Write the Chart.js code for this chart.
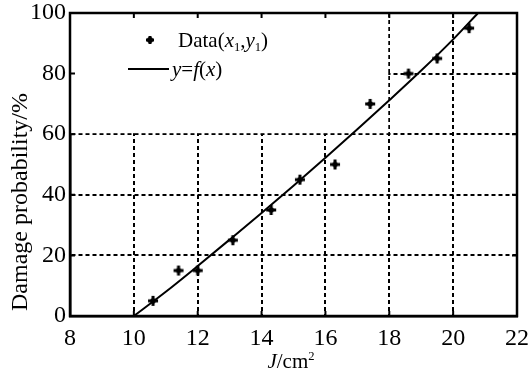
<!DOCTYPE html>
<html>
<head>
<meta charset="utf-8">
<script src="https://cdn.jsdelivr.net/npm/chart.js@4"></script>
<style>
	html, body { margin: 0; padding: 0; background: #fff; }
	#wrap { width: 531px; height: 376px; }
</style>
</head>
<body>
<div id="wrap"><canvas id="c" width="531" height="376"></canvas></div>
<script>

// measured points (J/cm2, damage probability %)
let dataX = [10.6, 11.4, 12.0, 13.1, 14.3, 15.2, 16.3, 17.4, 18.6, 19.5, 20.5];
let dataY = [5, 15, 15, 25, 35, 45, 50, 70, 80, 85, 95];

// fitted curve y = f(x)
let curveX = [10.0, 11.0, 12.0, 13.0, 14.0, 15.0, 16.0, 17.0, 18.0, 19.0, 20.0, 20.78];
let curveY = [0, 8.0, 16.5, 25.2, 34.0, 43.0, 52.2, 61.6, 71.2, 81.0, 91.3, 100];

let xTicks = [8, 10, 12, 14, 16, 18, 20, 22];
let yTicks = [0, 20, 40, 60, 80, 100];

// area hidden behind the legend (in data units)
let legendBox = { x0: 8, x1: 18, y0: 60, y1: 100 };

const FONT = "'Liberation Serif', 'Times New Roman', serif";

// bold plus marker with a fat centre
function makeMarker(arm, thick, core) {
	let c = document.createElement("canvas");
	let s = arm * 2 + 2;
	c.width = s; c.height = s;
	let g = c.getContext("2d");
	g.fillStyle = "#000";
	let m = s / 2;
	g.fillRect(m - thick / 2, m - arm, thick, arm * 2);
	g.fillRect(m - arm, m - thick / 2, arm * 2, thick);
	g.beginPath();
	g.arc(m, m, core, 0, Math.PI * 2);
	g.fill();
	return c;
}

let marker = makeMarker(5, 3, 2.8);
let legendMarker = makeMarker(4, 3, 3);

function drawRich(ctx, x, y, parts, size) {

	// parts: [text, style] with style n / i / sub / sup
	ctx.textBaseline = "alphabetic";
	ctx.textAlign = "left";
	parts.forEach(function(p) {
		let txt = p[0], st = p[1] || "n";
		let fs = size, dy = 0, it = "";
		if (st == "i") it = "italic ";
		if (st == "sub") { fs = size * 0.6; dy = size * 0.18; }
		if (st == "sup") { fs = size * 0.6; dy = -size * 0.38; }
		ctx.font = it + fs + "px " + FONT;
		ctx.fillText(txt, x, y + dy);
		x += ctx.measureText(txt).width;
	});
	return x;

}

function richWidth(ctx, parts, size) {
	let w = 0;
	parts.forEach(function(p) {
		let st = p[1] || "n";
		let fs = (st == "sub" || st == "sup") ? size * 0.6 : size;
		ctx.font = (st == "i" ? "italic " : "") + fs + "px " + FONT;
		w += ctx.measureText(p[0]).width;
	});
	return w;
}

const framePlugin = {
	id: "frame",
	beforeDatasetsDraw(chart) {
		let ctx = chart.ctx, a = chart.chartArea;
		let xs = chart.scales.x, ys = chart.scales.y;

		// white patch under the legend
		let l = xs.getPixelForValue(legendBox.x0), r = xs.getPixelForValue(legendBox.x1);
		let t = ys.getPixelForValue(legendBox.y1), b = ys.getPixelForValue(legendBox.y0);
		ctx.save();
		ctx.fillStyle = "#fff";
		ctx.fillRect(l + 1, t + 1, r - l - 2, b - t - 2);

		// inward ticks on every side
		ctx.strokeStyle = "#000";
		ctx.lineWidth = 2;
		ctx.beginPath();
		xTicks.forEach(function(v) {
			let px = xs.getPixelForValue(v);
			ctx.moveTo(px, a.top); ctx.lineTo(px, a.top + 5);
			ctx.moveTo(px, a.bottom); ctx.lineTo(px, a.bottom - 5);
		});
		yTicks.forEach(function(v) {
			let py = ys.getPixelForValue(v);
			ctx.moveTo(a.left, py); ctx.lineTo(a.left + 5, py);
			ctx.moveTo(a.right, py); ctx.lineTo(a.right - 5, py);
		});
		ctx.stroke();

		ctx.lineWidth = 2.5;
		ctx.strokeRect(a.left, a.top, a.right - a.left, a.bottom - a.top);
		ctx.restore();
	},
	afterDraw(chart) {
		let ctx = chart.ctx, a = chart.chartArea;
		ctx.save();
		ctx.fillStyle = "#000";
		ctx.strokeStyle = "#000";

		// legend
		let size = 21;
		ctx.drawImage(legendMarker, 150 - legendMarker.width / 2, 40 - legendMarker.height / 2);
		drawRich(ctx, 178, 47, [["Data("], ["x", "i"], ["1", "sub"], [","], ["y", "i"], ["1", "sub"], [")"]], size);
		ctx.lineWidth = 2;
		ctx.beginPath();
		ctx.moveTo(128, 69); ctx.lineTo(169, 69);
		ctx.stroke();
		drawRich(ctx, 172, 76, [["y", "i"], ["="], ["f", "i"], ["("], ["x", "i"], [")"]], size);

		// x axis title
		let xt = [["J", "i"], ["/cm"], ["2", "sup"]];
		let w = richWidth(ctx, xt, 21);
		drawRich(ctx, 291 - w / 2, 368, xt, 21);

		// y axis title
		ctx.translate(27, 202);
		ctx.rotate(-Math.PI / 2);
		ctx.font = "24px " + FONT;
		ctx.textAlign = "center";
		ctx.textBaseline = "alphabetic";
		ctx.fillText("Damage probability/%", 0, 0);
		ctx.restore();
	}
};

let gridStyle = {
	color: "#000",
	lineWidth: 2,
	drawTicks: false
};

new Chart(document.getElementById("c"), {
	type: "scatter",
	data: {
		datasets: [{
			label: "Data",
			data: dataX.map(function(x, i) { return { x: x, y: dataY[i] }; }),
			pointStyle: marker,
			pointRadius: 5,
			borderColor: "#000",
			backgroundColor: "#000",
			showLine: false
		}, {
			label: "y=f(x)",
			data: curveX.map(function(x, i) { return { x: x, y: curveY[i] }; }),
			showLine: true,
			pointRadius: 0,
			borderColor: "#000",
			borderWidth: 2,
			cubicInterpolationMode: "monotone",
			fill: false
		}]
	},
	options: {
		responsive: false,
		animation: false,
		devicePixelRatio: 1,
		layout: { padding: { top: 13, right: 14, left: 0, bottom: 0 } },
		plugins: {
			legend: { display: false },
			tooltip: { enabled: false }
		},
		scales: {
			x: {
				type: "linear",
				min: 8, max: 22,
				afterBuildTicks: function(s) { s.ticks = xTicks.map(function(v) { return { value: v }; }); },
				afterFit: function(s) { s.height = 60; s.paddingLeft = 0; s.paddingRight = 0; },
				grid: Object.assign({}, gridStyle),
				// in v4 the border dash also sets the grid line dash
				border: { display: true, color: "#000", width: 2.5, dash: [4, 3] },
				ticks: { color: "#000", font: { family: FONT, size: 24 }, padding: 8, maxRotation: 0 }
			},
			y: {
				type: "linear",
				min: 0, max: 100,
				afterBuildTicks: function(s) { s.ticks = yTicks.map(function(v) { return { value: v }; }); },
				afterFit: function(s) { s.width = 70; s.paddingTop = 0; s.paddingBottom = 0; },
				grid: Object.assign({}, gridStyle),
				border: { display: true, color: "#000", width: 2.5, dash: [4, 3] },
				ticks: { color: "#000", font: { family: FONT, size: 24 }, padding: 4 }
			}
		}
	},
	plugins: [framePlugin]
});

</script>
</body>
</html>
